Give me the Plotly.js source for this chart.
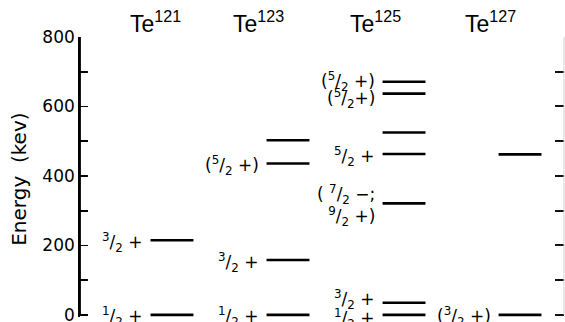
<!DOCTYPE html>
<html><head><meta charset="utf-8">
<script src="https://cdn.plot.ly/plotly-3.0.1.min.js"></script>
<style>html,body{margin:0;padding:0;background:#fff}#chart{width:565px;height:322px}</style>
</head><body><div id="chart"></div>
<script>
// Low-lying levels of the odd tellurium isotopes: energy (keV) and spin-parity
const isotopes = ['121', '123', '125', '127'];
const te121Energy = [0, 215];
const te121Spin = ['1/2 +', '3/2 +'];
const te123Energy = [0, 158, 436, 503];
const te123Spin = ['1/2 +', '3/2 +', '(5/2 +)', ''];
const te125Energy = [0, 35, 321, 463, 525, 637, 671];
const te125Spin = ['1/2 +', '3/2 +', '( 7/2 −;\n9/2 +)', '5/2 +', '', '(5/2+)', '(5/2 +)'];
const te127Energy = [0, 462];
const te127Spin = ['(3/2 +)', ''];
const energyTicks = [0, 200, 400, 600, 800];

const energies = [te121Energy, te123Energy, te125Energy, te127Energy];
const spins = [te121Spin, te123Spin, te125Spin, te127Spin];

// drawing geometry (column units)
const HALF = 0.185;
const titleShift = [-17, -30, -29, -30];
const labelShift = {'2-0': -2, '2-1': 5, '2-5': -3, '2-6': 2};
const Y_MIN = -6;   // a little room below the ground state so its bar is not clipped

const FONT = 'DejaVu Sans, Arial, sans-serif';

// "3/2" -> fraction with raised numerator and lowered denominator
function spinMarkup(s) {
  return s.replace(/(\d)\/2/g, '<sup>$1</sup>/<sub>2</sub>').replace(/\n/g, '<br>');
}

const segX = [], segY = [];
const annotations = [];

energies.forEach((levels, i) => {
  levels.forEach((e, k) => {
    segX.push(i - HALF, i + HALF, null);
    segY.push(e, e, null);
    const s = spins[i][k];
    if (s) {
      annotations.push({
        x: i - HALF, y: e, xref: 'x', yref: 'y',
        xanchor: 'right', yanchor: 'middle', align: 'right',
        xshift: -6, yshift: -2 + (labelShift[i + '-' + k] || 0),
        text: spinMarkup(s), showarrow: false,
        font: {family: FONT, size: 17, color: '#000'}
      });
    }
  });
  annotations.push({
    x: i, y: 1, xref: 'x', yref: 'paper',
    xanchor: 'center', yanchor: 'bottom',
    xshift: titleShift[i], yshift: -2,
    text: 'Te<sup>' + isotopes[i] + '</sup>', showarrow: false,
    font: {family: 'Liberation Sans, Arial, sans-serif', size: 23, color: '#000'}
  });
});

annotations.push({
  x: -61 / 484, y: 0.49, xref: 'paper', yref: 'paper',
  xanchor: 'center', yanchor: 'middle', textangle: -90,
  text: 'Energy&nbsp; (kev)', showarrow: false,
  font: {family: FONT, size: 20, color: '#000'}
});

const yTop = energyTicks[energyTicks.length - 1];
const zeroFrac = (0 - Y_MIN) / (yTop - Y_MIN);   // where 0 keV sits in paper units

const traces = [
  {x: segX, y: segY, type: 'scatter', mode: 'lines', cliponaxis: false,
   line: {color: '#000', width: 2.6}, hoverinfo: 'skip', showlegend: false},
  {x: [], y: [], type: 'scatter', yaxis: 'y2', hoverinfo: 'skip', showlegend: false}
];

const layout = {
  width: 565, height: 322,
  margin: {l: 80, r: 1, t: 37, b: 5},
  paper_bgcolor: '#fff', plot_bgcolor: 'rgba(0,0,0,0)',
  showlegend: false,
  xaxis: {range: [-0.793, 3.379], visible: false, fixedrange: true},
  yaxis: {
    range: [Y_MIN, yTop], tickvals: energyTicks, ticktext: energyTicks.map(String),
    ticks: 'inside', ticklen: 8, tickwidth: 1.6, tickcolor: '#000',
    minor: {tick0: 0, dtick: 100, ticks: 'inside', ticklen: 8, tickwidth: 1.6, tickcolor: '#000'},
    showline: true, linecolor: '#000', linewidth: 1.8,
    showgrid: false, zeroline: false, ticklabelstandoff: 0,
    ticklabeloverflow: 'allow',
    tickfont: {family: FONT, size: 17, color: '#000'}
  },
  yaxis2: {
    overlaying: 'y', side: 'right', range: [Y_MIN, yTop], dtick: 100, tick0: 0,
    ticks: 'inside', ticklen: 9, tickwidth: 2, tickcolor: '#111',
    showline: false, showticklabels: false, showgrid: false, zeroline: false
  },
  shapes: [
    {type: 'line', xref: 'paper', yref: 'paper', x0: 0, x1: 0, y0: zeroFrac, y1: 1,
     line: {color: '#000', width: 1.8}, layer: 'above'},
    {type: 'line', xref: 'paper', yref: 'paper', x0: 1, x1: 1, y0: zeroFrac, y1: 1,
     line: {color: '#d0d0d0', width: 1}, layer: 'above'}
  ],
  annotations: annotations
};

Plotly.newPlot('chart', traces, layout, {staticPlot: true, displayModeBar: false});
</script>
</body></html>
